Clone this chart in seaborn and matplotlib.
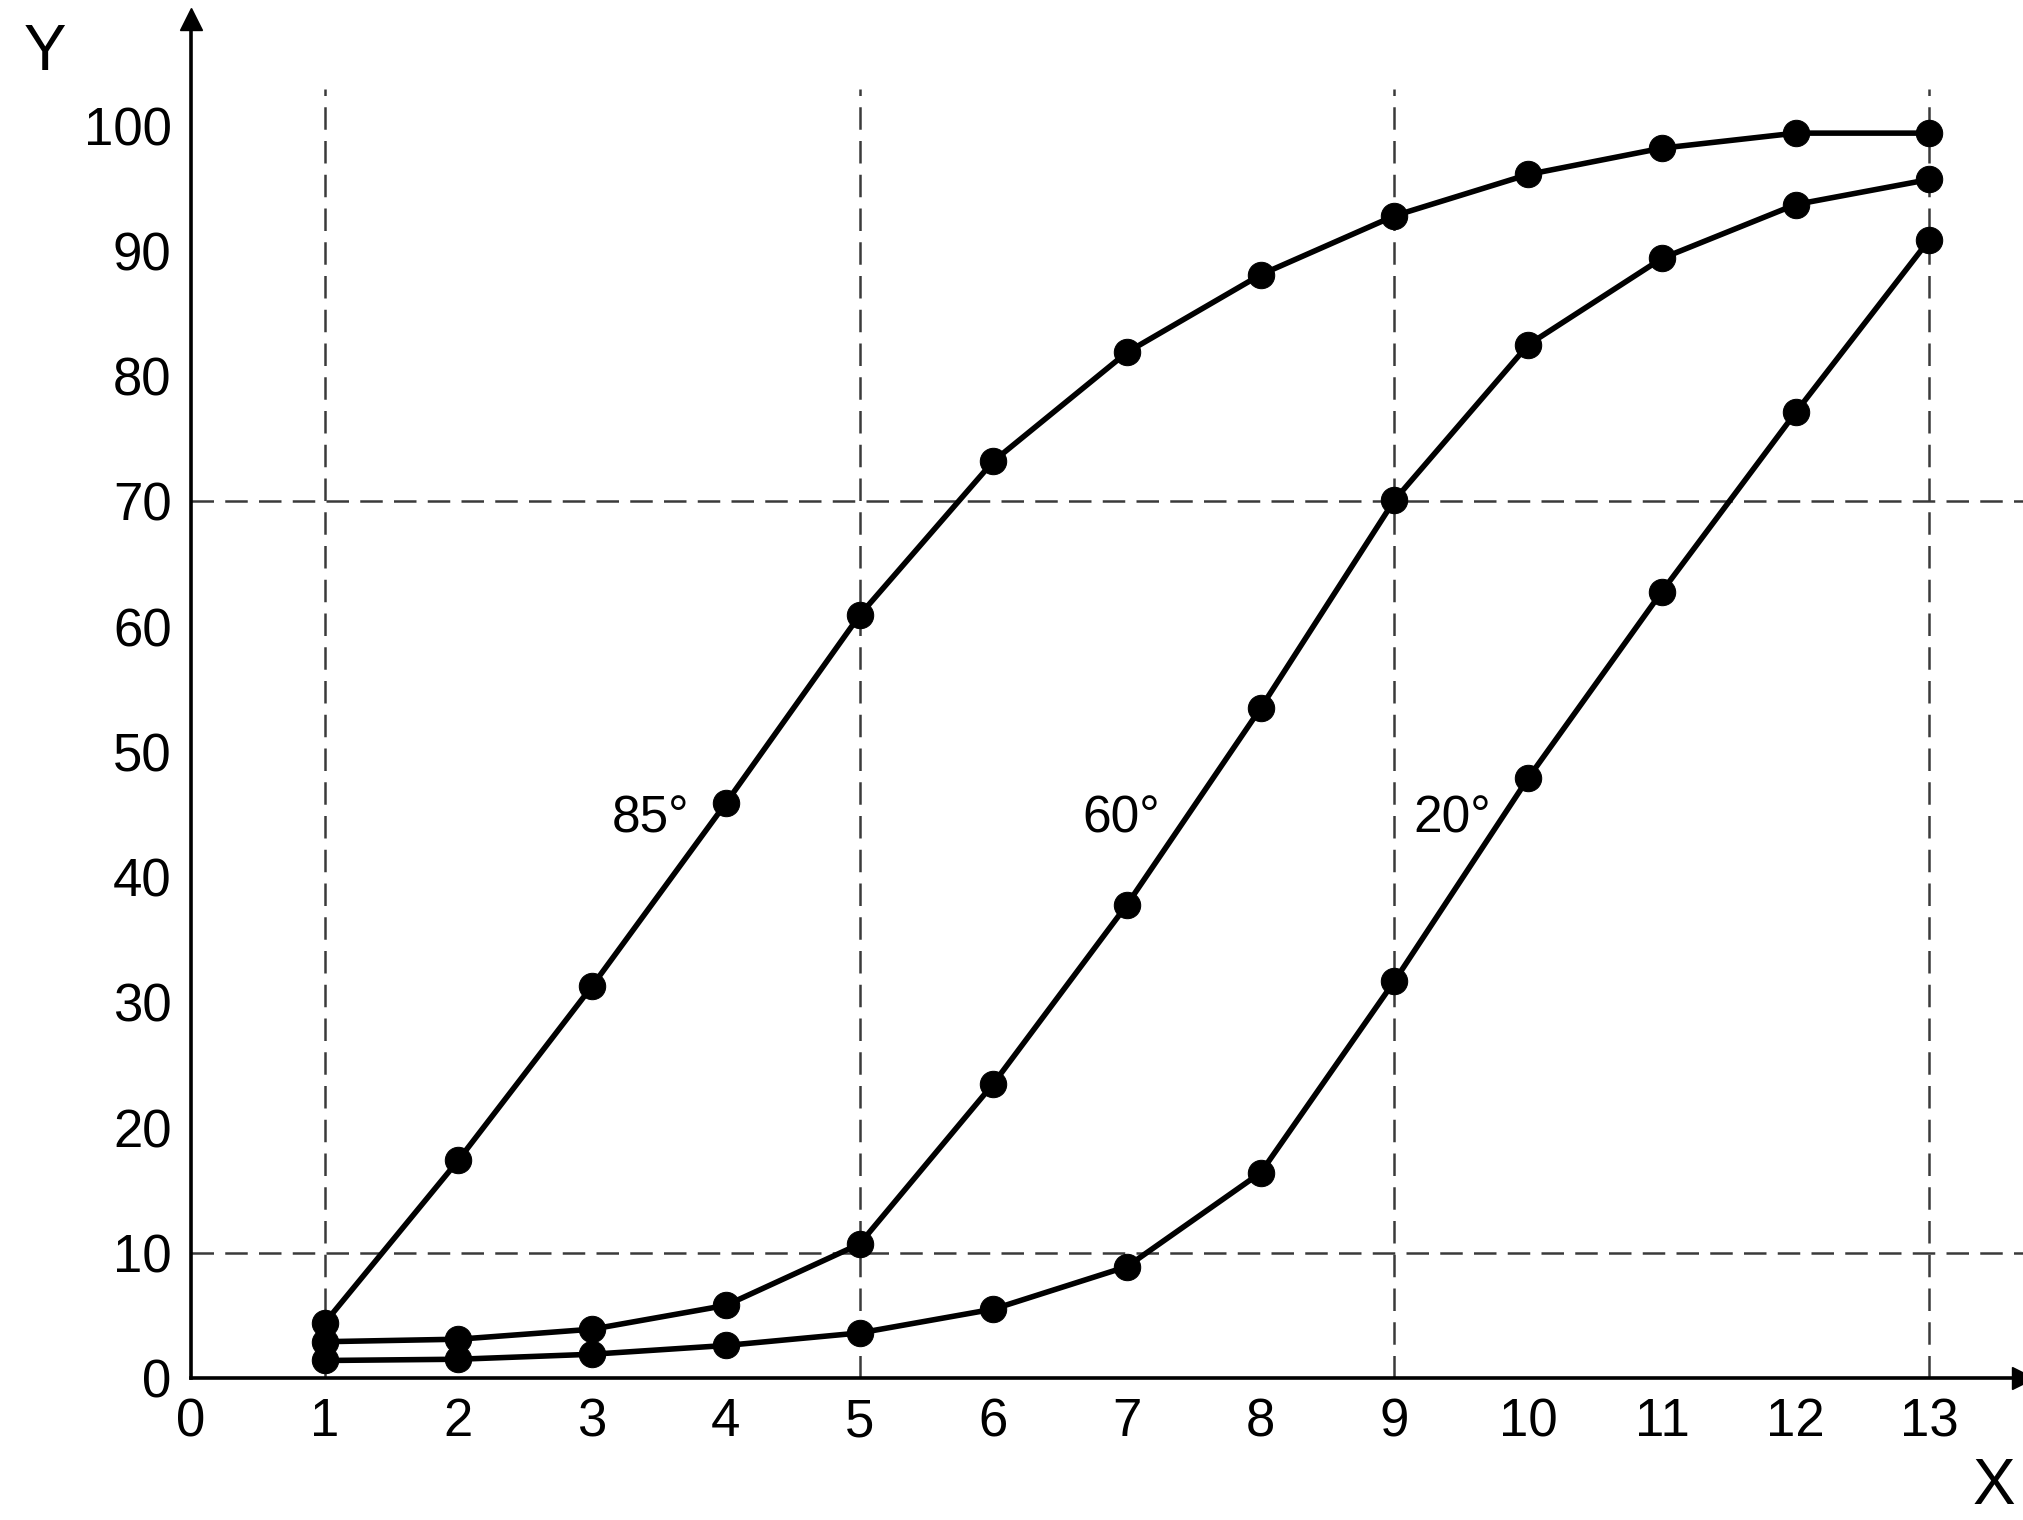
import numpy as np
import matplotlib
matplotlib.use("Agg")
import matplotlib.pyplot as plt
import seaborn as sns
import pandas as pd

X_VALUES = [1, 2, 3, 4, 5, 6, 7, 8, 9, 10, 11, 12, 13]
Y_85 = [4.4, 17.4, 31.3, 45.9, 60.9, 73.2, 81.9, 88.1, 92.8, 96.1, 98.2, 99.4, 99.4]
Y_60 = [2.9, 3.1, 3.9, 5.8, 10.7, 23.5, 37.8, 53.5, 70.1, 82.5, 89.4, 93.7, 95.7]
Y_20 = [1.4, 1.5, 1.9, 2.6, 3.6, 5.5, 8.9, 16.4, 31.7, 47.9, 62.8, 77.1, 90.9]
CURVE_LABELS = ['85°', '60°', '20°']
LABEL_POS = [(3.44, 44.6), (6.96, 44.6), (9.43, 44.6)]

VLINES = [1, 5, 9, 13]
HLINES = [10, 70]
XTICKS = list(range(0, 14))
YTICKS = list(range(0, 101, 10))

sns.set_style("white")
plt.rcParams['font.family'] = ['Liberation Sans', 'DejaVu Sans']
plt.rcParams['text.color'] = 'black'
plt.rcParams['xtick.color'] = 'black'
plt.rcParams['ytick.color'] = 'black'
plt.rcParams['xtick.labelcolor'] = 'black'
plt.rcParams['ytick.labelcolor'] = 'black'


def main():
    frames = []
    for label, ys in zip(CURVE_LABELS, [Y_85, Y_60, Y_20]):
        frames.append(pd.DataFrame({'x': X_VALUES, 'y': ys, 'angle': label}))
    df = pd.concat(frames, ignore_index=True)

    fig = plt.figure(figsize=(20.23, 15.2), dpi=100)
    ax = fig.add_axes([0.0944, 0.0934, 0.9056, 0.894])

    ymax = 108.5
    # dashed guide lines
    for xv in VLINES:
        ax.axvline(xv, ymin=0, ymax=102.9 / ymax, color='#3a3a3a', lw=1.8,
                   linestyle=(0, (9, 4.5)), zorder=1)
    for yv in HLINES:
        ax.axhline(yv, color='#3a3a3a', lw=1.8, linestyle=(0, (9, 4.5)), zorder=1)

    sns.lineplot(data=df, x='x', y='y', units='angle', estimator=None,
                 color='black', linewidth=4.0, marker='o', markersize=19,
                 markeredgecolor='black', sort=False, ax=ax, zorder=3)

    for label, (lx, ly) in zip(CURVE_LABELS, LABEL_POS):
        ax.text(lx, ly, label, fontsize=37, ha='center', va='center')

    ax.set_xlim(0, 13.7)
    ax.set_ylim(0, ymax)
    ax.set_xticks(XTICKS)
    ax.set_yticks(YTICKS)
    ax.set_xlabel('')
    ax.set_ylabel('')
    ax.tick_params(axis='both', direction='in', length=13, width=2.2,
                   labelsize=38, color='black')
    ax.tick_params(axis='x', pad=14)
    ax.tick_params(axis='y', pad=14)

    for side in ('top', 'right'):
        ax.spines[side].set_visible(False)
    for side in ('left', 'bottom'):
        ax.spines[side].set_linewidth(2.6)
        ax.spines[side].set_color('black')

    # arrow heads on the axes
    ax.plot(1, 0, marker='>', color='black', markersize=16,
            transform=ax.get_yaxis_transform(), clip_on=False)
    ax.plot(0, 1, marker='^', color='black', markersize=16,
            transform=ax.get_xaxis_transform(), clip_on=False)

    fig.text(0.022, 0.965, 'Y', fontsize=46, ha='center', va='center')
    fig.text(0.996, 0.022, 'X', fontsize=46, ha='right', va='center')

    fig.savefig('out.png', dpi=100, facecolor='white')
    plt.close()


if __name__ == '__main__':
    main()
